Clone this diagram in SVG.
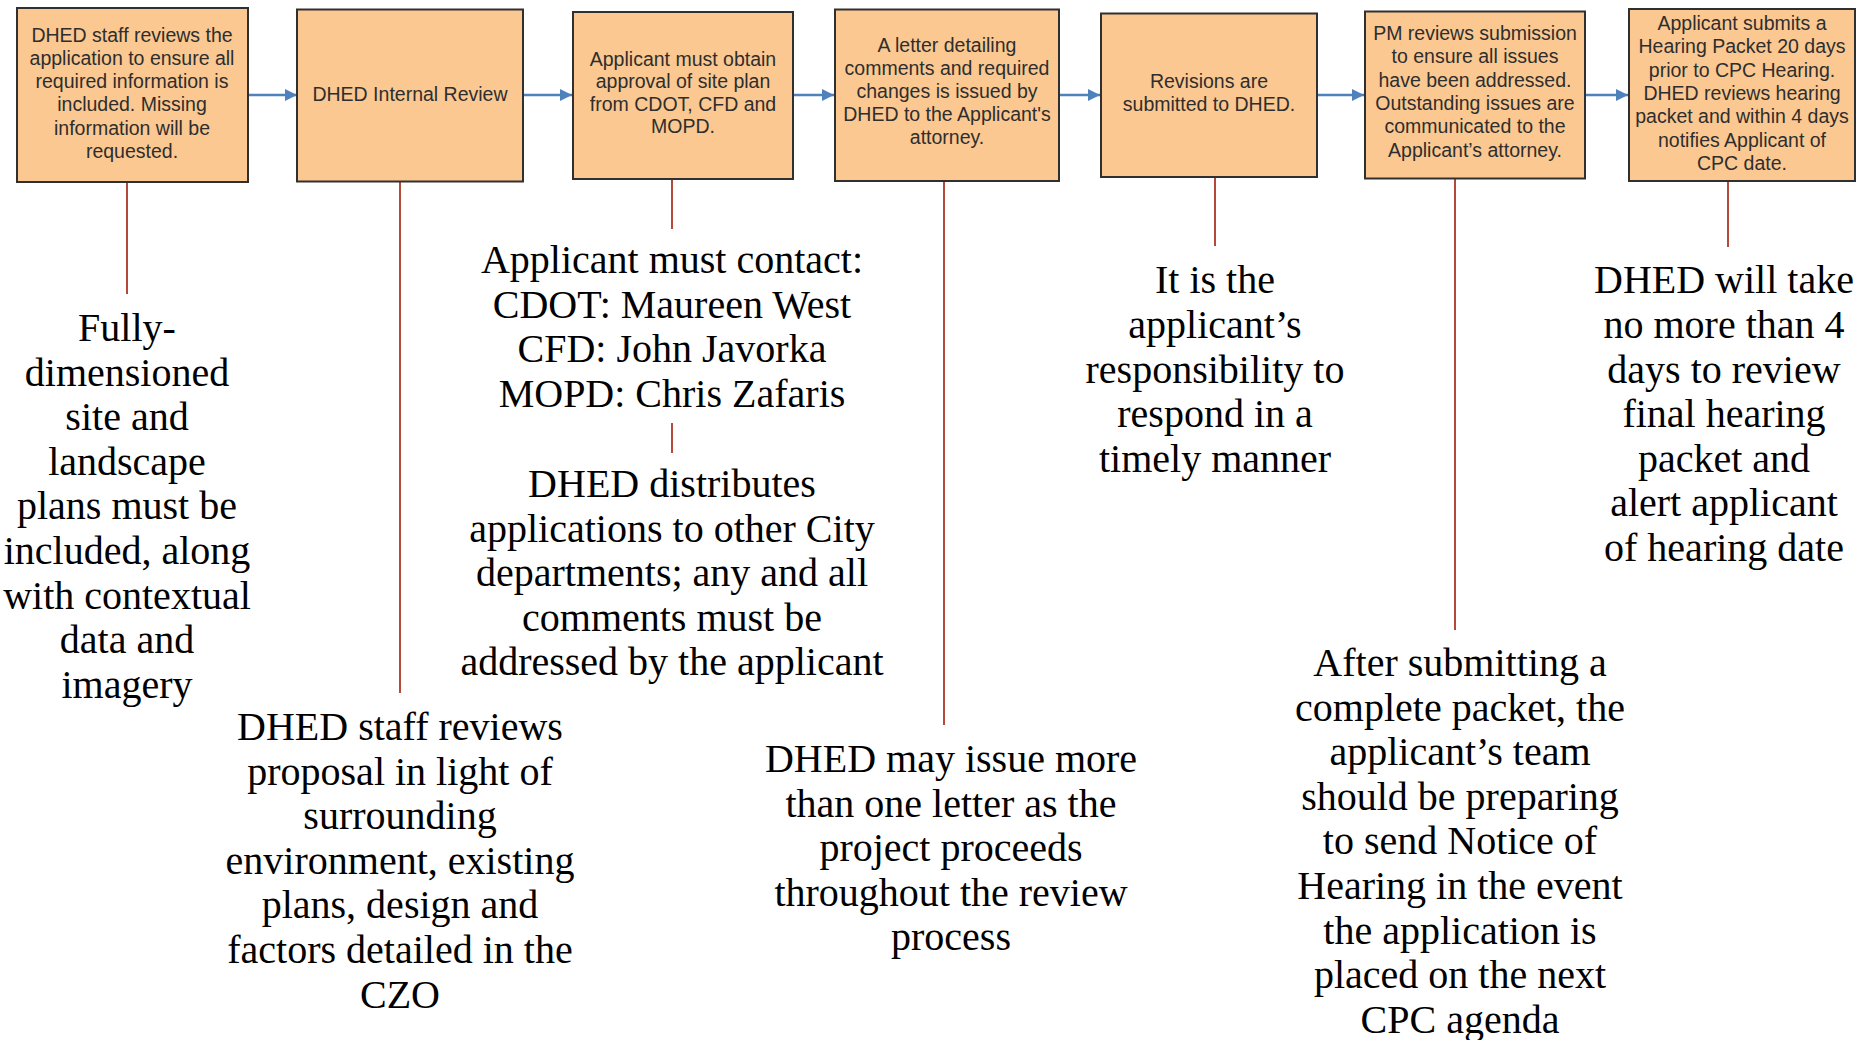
<svg xmlns="http://www.w3.org/2000/svg" width="1864" height="1040" viewBox="0 0 1864 1040">
<defs>
<style>
.box{fill:#fbc891;stroke:#303030;stroke-width:2}
.bt{font-family:"Liberation Sans",Arial,sans-serif;font-size:19.5px;fill:#2e2e2e;text-anchor:middle}
.nt{font-family:"Liberation Serif","Times New Roman",serif;font-size:40px;fill:#000;text-anchor:middle}
.flow{stroke:#4f81bd;stroke-width:2.5;fill:none;marker-end:url(#ah)}
.lead{stroke:#b3493a;stroke-width:2;fill:none}
</style>
<marker id="ah" viewBox="0 0 10 10" refX="10" refY="5" markerWidth="5" markerHeight="5" orient="auto" markerUnits="strokeWidth">
<path d="M0,0 L10,5 L0,10 z" fill="#4f81bd"/>
</marker>
</defs>
<rect width="1864" height="1040" fill="#fff"/>

<g id="connectors">
<line class="flow" x1="249" y1="95" x2="297" y2="95"/>
<line class="flow" x1="524" y1="95" x2="572" y2="95"/>
<line class="flow" x1="794" y1="95" x2="834" y2="95"/>
<line class="flow" x1="1060" y1="95" x2="1100" y2="95"/>
<line class="flow" x1="1318" y1="95" x2="1364" y2="95"/>
<line class="flow" x1="1586" y1="95" x2="1628" y2="95"/>
<line class="lead" x1="127" y1="182" x2="127" y2="294"/>
<line class="lead" x1="400" y1="182" x2="400" y2="693"/>
<line class="lead" x1="672" y1="179" x2="672" y2="229"/>
<line class="lead" x1="672" y1="423" x2="672" y2="453"/>
<line class="lead" x1="944" y1="181" x2="944" y2="725"/>
<line class="lead" x1="1215" y1="177" x2="1215" y2="246"/>
<line class="lead" x1="1455" y1="178" x2="1455" y2="630"/>
<line class="lead" x1="1728" y1="181" x2="1728" y2="247"/>
</g>

<g id="box1">
<rect class="box" x="17" y="8" width="231" height="174"/>
<text class="bt"><tspan x="132" y="41.5">DHED staff reviews the</tspan><tspan x="132" y="64.8">application to ensure all</tspan><tspan x="132" y="88.1">required information is</tspan><tspan x="132" y="111.4">included. Missing</tspan><tspan x="132" y="134.7">information will be</tspan><tspan x="132" y="158">requested.</tspan></text>
</g>

<g id="box2">
<rect class="box" x="297" y="9.5" width="226" height="172"/>
<text class="bt" x="410" y="101">DHED Internal Review</text>
</g>

<g id="box3">
<rect class="box" x="573" y="12" width="220" height="167"/>
<text class="bt"><tspan x="683" y="65.5">Applicant must obtain</tspan><tspan x="683" y="88">approval of site plan</tspan><tspan x="683" y="110.5">from CDOT, CFD and</tspan><tspan x="683" y="133">MOPD.</tspan></text>
</g>

<g id="box4">
<rect class="box" x="835" y="9.5" width="224" height="171.5"/>
<text class="bt"><tspan x="947" y="51.5">A letter detailing</tspan><tspan x="947" y="74.5">comments and required</tspan><tspan x="947" y="97.5">changes is issued by</tspan><tspan x="947" y="120.5">DHED to the Applicant's</tspan><tspan x="947" y="143.5">attorney.</tspan></text>
</g>

<g id="box5">
<rect class="box" x="1101" y="13.5" width="216" height="163.5"/>
<text class="bt"><tspan x="1209" y="87.5">Revisions are</tspan><tspan x="1209" y="110.5">submitted to DHED.</tspan></text>
</g>

<g id="box6">
<rect class="box" x="1365" y="11.5" width="220" height="167"/>
<text class="bt"><tspan x="1475" y="40">PM reviews submission</tspan><tspan x="1475" y="63.3">to ensure all issues</tspan><tspan x="1475" y="86.6">have been addressed.</tspan><tspan x="1475" y="109.9">Outstanding issues are</tspan><tspan x="1475" y="133.2">communicated to the</tspan><tspan x="1475" y="156.5">Applicant’s attorney.</tspan></text>
</g>

<g id="box7">
<rect class="box" x="1629" y="9" width="226" height="172"/>
<text class="bt"><tspan x="1742" y="30">Applicant submits a</tspan><tspan x="1742" y="53.3">Hearing Packet 20 days</tspan><tspan x="1742" y="76.6">prior to CPC Hearing.</tspan><tspan x="1742" y="99.9">DHED reviews hearing</tspan><tspan x="1742" y="123.2">packet and within 4 days</tspan><tspan x="1742" y="146.5">notifies Applicant of</tspan><tspan x="1742" y="169.8">CPC date.</tspan></text>
</g>

<g id="note1">
<text class="nt"><tspan x="127" y="341">Fully-</tspan><tspan x="127" y="385.6">dimensioned</tspan><tspan x="127" y="430.2">site and</tspan><tspan x="127" y="474.8">landscape</tspan><tspan x="127" y="519.4">plans must be</tspan><tspan x="127" y="564">included, along</tspan><tspan x="127" y="608.6">with contextual</tspan><tspan x="127" y="653.2">data and</tspan><tspan x="127" y="697.8">imagery</tspan></text>
</g>

<g id="note2">
<text class="nt"><tspan x="400" y="740">DHED staff reviews</tspan><tspan x="400" y="784.6">proposal in light of</tspan><tspan x="400" y="829.2">surrounding</tspan><tspan x="400" y="873.8">environment, existing</tspan><tspan x="400" y="918.4">plans, design and</tspan><tspan x="400" y="963">factors detailed in the</tspan><tspan x="400" y="1007.6">CZO</tspan></text>
</g>

<g id="note3">
<text class="nt"><tspan x="672" y="273">Applicant must contact:</tspan><tspan x="672" y="317.6">CDOT: Maureen West</tspan><tspan x="672" y="362.2">CFD: John Javorka</tspan><tspan x="672" y="406.8">MOPD: Chris Zafaris</tspan></text>
</g>

<g id="note4">
<text class="nt"><tspan x="672" y="497">DHED distributes</tspan><tspan x="672" y="541.6">applications to other City</tspan><tspan x="672" y="586.2">departments; any and all</tspan><tspan x="672" y="630.8">comments must be</tspan><tspan x="672" y="675.4">addressed by the applicant</tspan></text>
</g>

<g id="note5">
<text class="nt"><tspan x="951" y="772">DHED may issue more</tspan><tspan x="951" y="816.6">than one letter as the</tspan><tspan x="951" y="861.2">project proceeds</tspan><tspan x="951" y="905.8">throughout the review</tspan><tspan x="951" y="950.4">process</tspan></text>
</g>

<g id="note6">
<text class="nt"><tspan x="1215" y="293.4">It is the</tspan><tspan x="1215" y="338">applicant’s</tspan><tspan x="1215" y="382.6">responsibility to</tspan><tspan x="1215" y="427.2">respond in a</tspan><tspan x="1215" y="471.8">timely manner</tspan></text>
</g>

<g id="note7">
<text class="nt"><tspan x="1460" y="676">After submitting a</tspan><tspan x="1460" y="720.6">complete packet, the</tspan><tspan x="1460" y="765.2">applicant’s team</tspan><tspan x="1460" y="809.8">should be preparing</tspan><tspan x="1460" y="854.4">to send Notice of</tspan><tspan x="1460" y="899">Hearing in the event</tspan><tspan x="1460" y="943.6">the application is</tspan><tspan x="1460" y="988.2">placed on the next</tspan><tspan x="1460" y="1032.8">CPC agenda</tspan></text>
</g>

<g id="note8">
<text class="nt"><tspan x="1724" y="293.4">DHED will take</tspan><tspan x="1724" y="338">no more than 4</tspan><tspan x="1724" y="382.6">days to review</tspan><tspan x="1724" y="427.2">final hearing</tspan><tspan x="1724" y="471.8">packet and</tspan><tspan x="1724" y="516.4">alert applicant</tspan><tspan x="1724" y="561">of hearing date</tspan></text>
</g>
</svg>
